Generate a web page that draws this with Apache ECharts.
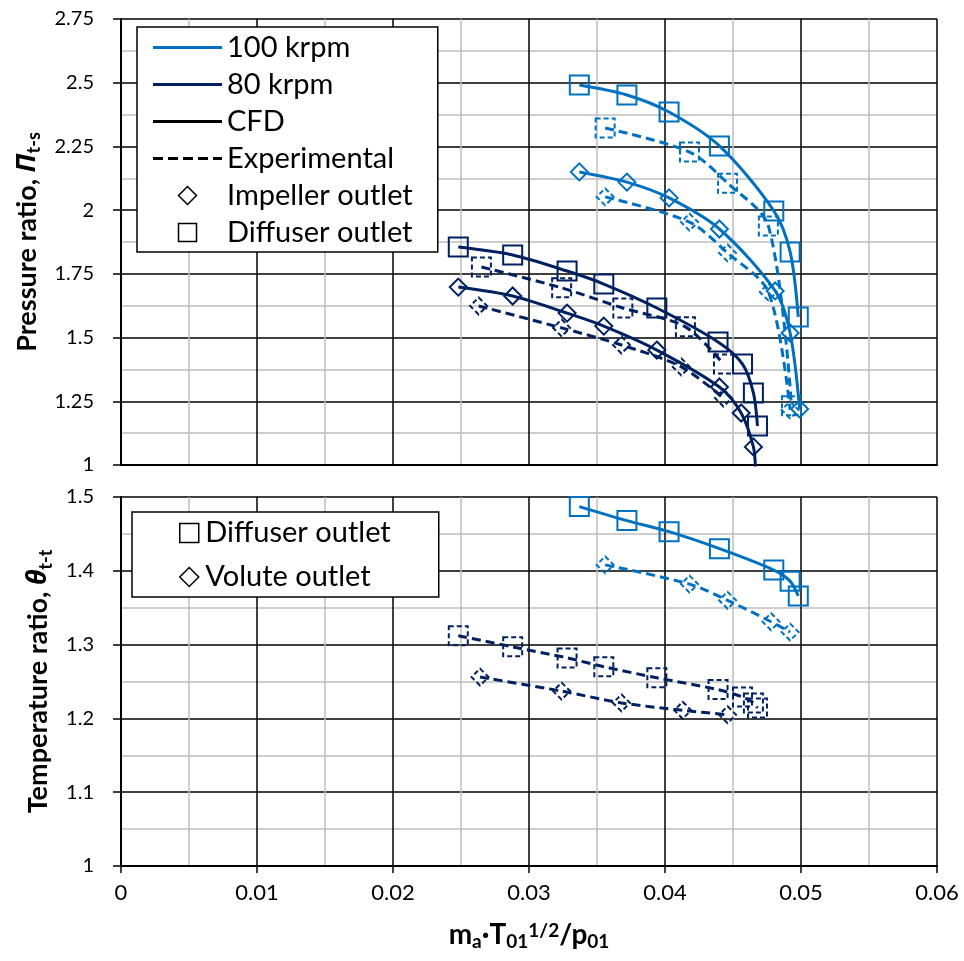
<!DOCTYPE html>
<html><head><meta charset="utf-8">
<script src="https://cdn.jsdelivr.net/npm/echarts@6/dist/echarts.min.js"></script>
<style>html,body{margin:0;padding:0;background:#fff;}#c{width:964px;height:961px;}</style>
</head><body><div id="c"></div>
<script>
// ---------- data (top panel: pressure ratio) ----------
const mf100Cfd      = [0.0337, 0.0372, 0.0403, 0.0440, 0.0480, 0.0492, 0.0498];
const pr100CfdDiff  = [2.491, 2.452, 2.385, 2.252, 1.997, 1.836, 1.581];
const mf100CfdImp   = [0.0337, 0.0372, 0.0403, 0.0440, 0.0481, 0.0492, 0.0499];
const pr100CfdImp   = [2.150, 2.110, 2.048, 1.926, 1.683, 1.518, 1.220];
const mf100Exp      = [0.0356, 0.0418, 0.0446, 0.0476, 0.0493];
const pr100ExpDiff  = [2.322, 2.228, 2.106, 1.938, 1.232];
const mf100ExpImp   = [0.0356, 0.0418, 0.0446, 0.0476, 0.0492];
const pr100ExpImp   = [2.052, 1.953, 1.832, 1.679, 1.216];
const mf80Cfd       = [0.0248, 0.0288, 0.0328, 0.0355, 0.0394, 0.0439, 0.0457, 0.0465, 0.0468];
const pr80CfdDiff   = [1.855, 1.824, 1.761, 1.710, 1.616, 1.483, 1.396, 1.283, 1.153];
const mf80CfdImp    = [0.0248, 0.0288, 0.0328, 0.0355, 0.0394, 0.0440, 0.0456, 0.0465, 0.04665];
const pr80CfdImp    = [1.698, 1.663, 1.596, 1.545, 1.451, 1.306, 1.204, 1.071, 0.985];
const mf80ExpDiff   = [0.0265, 0.0324, 0.0369, 0.0415, 0.0443];
const pr80ExpDiff   = [1.777, 1.695, 1.616, 1.542, 1.396];
const mf80ExpImp    = [0.0263, 0.0324, 0.0368, 0.0412, 0.0443];
const pr80ExpImp    = [1.624, 1.538, 1.471, 1.385, 1.263];
// ---------- data (bottom panel: temperature ratio) ----------
const tr100CfdDiff  = [1.487, 1.468, 1.453, 1.430, 1.401, 1.386, 1.366];
const mf100ExpVol   = [0.0356, 0.0418, 0.0446, 0.0478, 0.0492];
const tr100ExpVol   = [1.408, 1.382, 1.360, 1.331, 1.317];
const tr80ExpDiff   = [1.312, 1.297, 1.282, 1.270, 1.255, 1.239, 1.229, 1.221, 1.214];
const mf80ExpVol    = [0.0264, 0.0324, 0.0368, 0.0413, 0.0446];
const tr80ExpVol    = [1.256, 1.237, 1.221, 1.211, 1.205];
// ---------- axis ticks ----------
const xTicks = [0, 0.01, 0.02, 0.03, 0.04, 0.05, 0.06];
const yTicksTop = [1, 1.25, 1.5, 1.75, 2, 2.25, 2.5, 2.75];
const yTicksBottom = [1, 1.1, 1.2, 1.3, 1.4, 1.5];

const C100 = '#0070C0', C80 = '#002060';
const FONT = 'Lato';

function pts(xs, ys) { return xs.map((x, i) => [x, ys[i]]); }
function ser(name, xs, ys, color, sym, dashed, g) {
  return {
    type: 'line', name: name, xAxisIndex: g, yAxisIndex: g,
    data: pts(xs, ys), smooth: 0.3, symbol: sym, clip: true,
    symbolSize: sym === 'rect' ? 19 : 17, showAllSymbol: true,
    lineStyle: { color: color, width: 3, type: dashed ? [9, 5] : 'solid' },
    itemStyle: { color: 'rgba(255,255,255,0)', borderColor: color, borderWidth: 2,
                 borderType: dashed ? [5, 3] : 'solid' },
    emphasis: { disabled: true }, silent: true
  };
}
function dummy(name, color) {
  return { type: 'line', name: name, data: [], xAxisIndex: 0, yAxisIndex: 0,
           itemStyle: { color: color }, lineStyle: { color: color } };
}

const series = [
  ser('100 Diff CFD', mf100Cfd, pr100CfdDiff, C100, 'rect', false, 0),
  ser('100 Imp CFD', mf100CfdImp, pr100CfdImp, C100, 'diamond', false, 0),
  ser('100 Diff Exp', mf100Exp, pr100ExpDiff, C100, 'rect', true, 0),
  ser('100 Imp Exp', mf100ExpImp, pr100ExpImp, C100, 'diamond', true, 0),
  ser('80 Diff CFD', mf80Cfd, pr80CfdDiff, C80, 'rect', false, 0),
  ser('80 Imp CFD', mf80CfdImp, pr80CfdImp, C80, 'diamond', false, 0),
  ser('80 Diff Exp', mf80ExpDiff, pr80ExpDiff, C80, 'rect', true, 0),
  ser('80 Imp Exp', mf80ExpImp, pr80ExpImp, C80, 'diamond', true, 0),
  ser('100 Diff CFD T', mf100Cfd, tr100CfdDiff, C100, 'rect', false, 1),
  ser('100 Vol Exp T', mf100ExpVol, tr100ExpVol, C100, 'diamond', true, 1),
  ser('80 Diff Exp T', mf80Cfd, tr80ExpDiff, C80, 'rect', true, 1),
  ser('80 Vol Exp T', mf80ExpVol, tr80ExpVol, C80, 'diamond', true, 1),
  dummy('100 krpm', C100), dummy('80 krpm', C80), dummy('CFD', '#000'),
  dummy('Experimental', '#000'), dummy('Impeller outlet', '#000'),
  dummy('Diffuser outlet', '#000'), dummy('Volute outlet', '#000')
];

const LINE = 'path://M0,0H69V3H0Z';
const DASH = 'path://M0,0H10V3H0Z M15,0H25V3H15Z M30,0H40V3H30Z M45,0H55V3H45Z M60,0H69V3H60Z';
const DIAMOND = 'path://M9,0L18,9L9,18L0,9Z';
const SQUARE = 'path://M0,0H18V18H0Z';
const shapeStyle = { color: '#fff', borderColor: '#000', borderWidth: 1.5 };
const fmt = v => String(+v.toFixed(3));

function xAxis(g, showLabels) {
  return {
    gridIndex: g, type: 'value', min: xTicks[0], max: xTicks[xTicks.length - 1],
    interval: xTicks[1] - xTicks[0],
    axisLine: { onZero: false, lineStyle: { color: '#000', width: 2 } },
    axisTick: { show: showLabels, length: 7, lineStyle: { color: '#000', width: 1.5 } },
    axisLabel: { show: showLabels, fontFamily: FONT, fontSize: 22, color: '#000', margin: 16, formatter: fmt },
    splitLine: { lineStyle: { color: '#000', width: 1.5 } },
    minorTick: { show: false, splitNumber: 2 },
    minorSplitLine: { show: true, lineStyle: { color: '#BFBFBF', width: 1.5 } },
    name: showLabels ? '{t|m}{s|a}{t|·T}{s|01}{p|1/2}{t|/p}{s|01}' : '',
    nameLocation: 'middle', nameGap: 55,
    nameTextStyle: {
      fontFamily: FONT, fontWeight: 'bold', fontSize: 28, color: '#000',
      rich: {
        t: { fontFamily: FONT, fontWeight: 'bold', fontSize: 28, lineHeight: 30, verticalAlign: 'top', color: '#000' },
        s: { fontFamily: FONT, fontWeight: 'bold', fontSize: 19, lineHeight: 16, verticalAlign: 'bottom', padding: [20, 0, 0, 0], color: '#000' },
        p: { fontFamily: FONT, fontWeight: 'bold', fontSize: 19, lineHeight: 16, verticalAlign: 'top', color: '#000' }
      }
    }
  };
}
function yAxis(g, ticks, name) {
  return {
    gridIndex: g, type: 'value', min: ticks[0], max: ticks[ticks.length - 1],
    interval: ticks[1] - ticks[0],
    axisLine: { lineStyle: { color: '#000', width: 2 } },
    axisTick: { show: true, length: 8, lineStyle: { color: '#000', width: 1.5 } },
    axisLabel: { fontFamily: FONT, fontSize: 20, color: '#000', margin: 27, formatter: fmt },
    splitLine: { lineStyle: { color: '#000', width: 1.5 } },
    minorTick: { show: false, splitNumber: 2 },
    minorSplitLine: { show: true, lineStyle: { color: '#BFBFBF', width: 1.5 } },
    name: name, nameLocation: 'middle', nameGap: 58,
    nameTextStyle: {
      fontFamily: FONT, fontWeight: 'bold', fontSize: 27, color: '#000',
      rich: {
        t: { fontFamily: FONT, fontWeight: 'bold', fontSize: 27, lineHeight: 30, verticalAlign: 'top', color: '#000' },
        g: { fontFamily: 'Noto Sans', fontStyle: 'italic', fontWeight: 'bold', fontSize: 27, lineHeight: 30, verticalAlign: 'top', color: '#000' },
        s: { fontFamily: FONT, fontWeight: 'bold', fontSize: 18, lineHeight: 16, verticalAlign: 'bottom', padding: [20, 0, 0, 0], color: '#000' }
      }
    }
  };
}

const option = {
  animation: false,
  backgroundColor: '#fff',
  grid: [
    { left: 121, top: 19, width: 816, height: 446, containLabel: false, outerBoundsMode: 'none' },
    { left: 121, top: 497, width: 816, height: 369, containLabel: false, outerBoundsMode: 'none' }
  ],
  xAxis: [xAxis(0, false), xAxis(1, true)],
  yAxis: [
    yAxis(0, yTicksTop, '{t|Pressure ratio, }{g|Π}{s|t-s}'),
    yAxis(1, yTicksBottom, '{t|Temperature ratio, }{g|θ}{s|t-t}')
  ],
  legend: [
    {
      selectedMode: false, orient: 'vertical', left: 137, top: 27,
      padding: [6, 25, 5, 16], itemGap: 8, itemWidth: 69, itemHeight: 18,
      backgroundColor: '#fff', borderColor: '#000', borderWidth: 1.5, borderRadius: 0,
      textStyle: { fontFamily: FONT, fontSize: 29, color: '#000', lineHeight: 29 },
      data: [
        { name: '100 krpm', icon: LINE, itemStyle: { color: C100, borderWidth: 0 } },
        { name: '80 krpm', icon: LINE, itemStyle: { color: C80, borderWidth: 0 } },
        { name: 'CFD', icon: LINE, itemStyle: { color: '#000', borderWidth: 0 } },
        { name: 'Experimental', icon: DASH, itemStyle: { color: '#000', borderWidth: 0 } },
        { name: 'Impeller outlet', icon: DIAMOND, itemStyle: shapeStyle },
        { name: 'Diffuser outlet', icon: SQUARE, itemStyle: shapeStyle }
      ]
    },
    {
      selectedMode: false, orient: 'vertical', left: 132, top: 512,
      padding: [6, 48, 5, 47], itemGap: 14, itemWidth: 22, itemHeight: 19,
      backgroundColor: '#fff', borderColor: '#000', borderWidth: 1.5, borderRadius: 0,
      textStyle: { fontFamily: FONT, fontSize: 29, color: '#000', lineHeight: 30 },
      data: [
        { name: 'Diffuser outlet', icon: SQUARE, itemStyle: shapeStyle },
        { name: 'Volute outlet', icon: DIAMOND, itemStyle: shapeStyle }
      ]
    }
  ],
  series: series
};
const chart = echarts.init(document.getElementById('c'), null, { renderer: 'canvas' });
chart.setOption(option);
</script></body></html>
